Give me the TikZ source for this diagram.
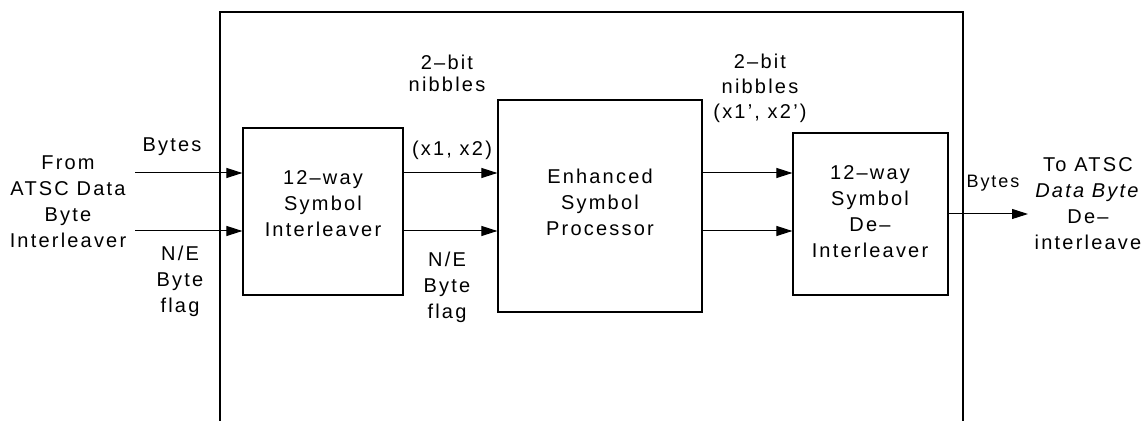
\documentclass[tikz,border=0pt]{standalone}
\usepackage{fontspec}
\setmainfont{Liberation Sans}[LetterSpace=11]
\usetikzlibrary{arrows.meta,positioning}
\newcommand{\diaglbl}{\fontsize{10}{13}\selectfont}
\newcommand{\diagsmall}{\fontsize{9}{11}\selectfont}

\begin{document}
\begin{tikzpicture}[
    x=0.5pt, y=-0.5pt,
    blk/.style={rectangle, draw, line width=0.6pt, inner sep=0pt,
                align=center, font=\diaglbl},
    lbl/.style={align=center, inner sep=0pt, font=\diaglbl},
    >={Triangle[length=8pt,width=5pt]}
]
\useasboundingbox (0,0) rectangle (1148,421);

% enclosing frame, open at the bottom
\draw[line width=0.6pt] (220,421) -- (220,12) -- (963,12) -- (963,421);

\node[blk, minimum width=80pt,  minimum height=83.5pt] (intl)  at (323,211.5) {};
\node[blk, minimum width=102pt, minimum height=106pt]  (esp)   at (600,206)   {};
\node[blk, minimum width=77.5pt, minimum height=81pt]  (deint) at (870.5,214) {};

\node[lbl] (intltxt)  at (323,204) {12--way\\Symbol\\Interleaver};
\node[lbl] (esptxt)   at (600,202) {Enhanced\\Symbol\\Processor};
\node[lbl] (deinttxt) at (870,212) {12--way\\Symbol\\De--\\Interleaver};

\coordinate (in1) at (135,173);
\coordinate (in2) at (135,231);
\coordinate (out) at (1028,214);

\draw[->, line width=0.5pt] (in1) -- (in1 -| intl.west);
\draw[->, line width=0.5pt] (in2) -- (in2 -| intl.west);
\draw[->, line width=0.5pt] (intl.east |- in1) -- (esp.west |- in1);
\draw[->, line width=0.5pt] (intl.east |- in2) -- (esp.west |- in2);
\draw[->, line width=0.5pt] (esp.east |- in1) -- (deint.west |- in1);
\draw[->, line width=0.5pt] (esp.east |- in2) -- (deint.west |- in2);
\draw[->, line width=0.5pt] (deint.east) -- (out);

% labels
\node[lbl] (src)     at (68,202)  {From\\ATSC Data\\Byte\\Interleaver};
\node[lbl] (bytesin) at (172,147) {Bytes};
\node[lbl] (flagin)  at (180,281) {N/E\\Byte\\flag};
\node[lbl, font=\fontsize{10}{11}\selectfont] (nib) at (447,73) {2--bit\\nibbles};
\node[lbl] (xin)     at (452,150) {(x1, x2)};
\node[lbl] (flagmid) at (447,287) {N/E\\Byte\\flag};
\node[lbl, font=\fontsize{10}{12.5}\selectfont] (nibout) at (760,88) {2--bit\\nibbles\\(x1', x2')};
\node[lbl, font=\diagsmall] (bytesout) at (993,183) {Bytes};
\node[lbl] (dst)     at (1088,204) {To ATSC\\\textit{Data Byte}\\De--\\interleave};
\end{tikzpicture}
\end{document}
